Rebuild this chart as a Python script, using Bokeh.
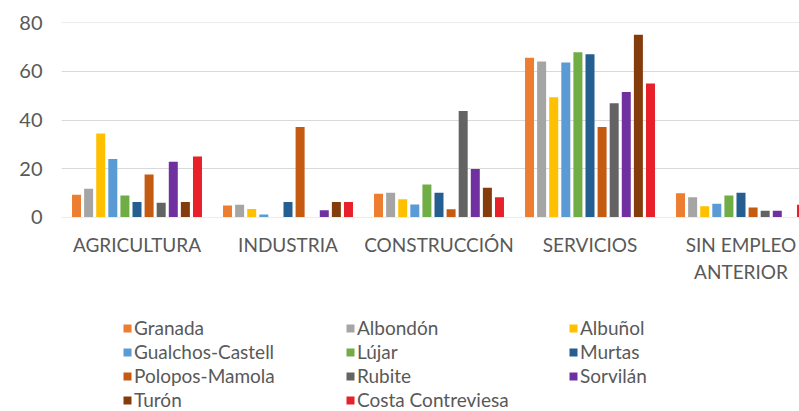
from bokeh.plotting import figure
from bokeh.models import ColumnDataSource, Range1d, FixedTicker, Legend, LegendItem
from bokeh.layouts import column
from bokeh.transform import dodge
from bokeh.embed import file_html
from bokeh.resources import INLINE

# ---- data ----
categories = ["AGRICULTURA", "INDUSTRIA", "CONSTRUCCIÓN", "SERVICIOS", "SIN EMPLEO\nANTERIOR"]
municipios = ["Granada", "Albondón", "Albuñol", "Gualchos-Castell", "Lújar", "Murtas",
              "Polopos-Mamola", "Rubite", "Sorvilán", "Turón", "Costa Contreviesa"]

granada = [9.2, 4.7, 9.6, 65.7, 9.8]
albondon = [11.7, 5.1, 10.0, 64.1, 8.1]
albunol = [34.4, 3.3, 7.3, 49.4, 4.4]
gualchos = [23.9, 1.0, 5.2, 63.7, 5.5]
lujar = [8.9, 0.0, 13.4, 67.9, 8.9]
murtas = [6.2, 6.2, 10.0, 67.1, 10.0]
polopos = [17.5, 37.1, 3.2, 37.1, 3.9]
rubite = [5.9, 0.0, 43.7, 46.9, 2.6]
sorvilan = [22.8, 2.8, 19.8, 51.5, 2.6]
turon = [6.2, 6.2, 12.1, 75.1, 0.0]
costa = [25.0, 6.2, 8.1, 55.0, 5.1]

colors = ["#ED7D31", "#A5A5A5", "#FFC000", "#5B9BD5", "#70AD47", "#255E91",
          "#C55A11", "#636363", "#7030A0", "#843C0C", "#E8202A"]
y_ticks = [0, 20, 40, 60, 80]

series = [granada, albondon, albunol, gualchos, lujar, murtas,
          polopos, rubite, sorvilan, turon, costa]
keys = ["s%d" % i for i in range(len(series))]

cat_idx = list(range(len(categories)))
data = {"x": cat_idx}
for k, s in zip(keys, series):
    data[k] = s
src = ColumnDataSource(data)

step = 0.0801
bar_w = 0.0596
TEXT = "#595959"

p = figure(width=799, height=290, output_backend="svg", toolbar_location=None,
           x_range=Range1d(-0.5, 4.3874), y_range=Range1d(-0.2, 80.2),
           min_border_left=61, min_border_right=0, min_border_top=22,
           min_border_bottom=73)
p.outline_line_color = None
p.background_fill_color = "white"
p.border_fill_color = "white"

n = len(series)
for j, (k, col) in enumerate(zip(keys, colors)):
    p.vbar(x=dodge("x", (j - (n - 1) / 2) * step, range=p.x_range), top=k,
           bottom=0, width=bar_w, source=src, fill_color=col, line_color=None)

# axes
p.xgrid.grid_line_color = None
p.ygrid.grid_line_color = "#D9D9D9"
p.ygrid.grid_line_width = 1
p.yaxis.ticker = FixedTicker(ticks=y_ticks)
p.xaxis.ticker = FixedTicker(ticks=cat_idx)
p.xaxis.major_label_overrides = {i: c for i, c in enumerate(categories)}

for ax in (p.xaxis, p.yaxis):
    ax.axis_line_color = None
    ax.major_tick_line_color = None
    ax.minor_tick_line_color = None
    ax.major_tick_out = 0
    ax.major_tick_in = 0
    ax.major_label_text_font = "Lato"
    ax.major_label_text_font_size = "19px"
    ax.major_label_text_color = TEXT
p.yaxis.major_label_text_font_size = "20px"
p.xaxis.major_label_standoff = 15
p.yaxis.major_label_standoff = 19

# ---- legend figure (same colours; zero-height key glyphs, nothing visible) ----
lf = figure(width=799, height=121, output_backend="svg", toolbar_location=None,
            x_range=Range1d(0, 1), y_range=Range1d(0, 1),
            min_border_left=0, min_border_right=0, min_border_top=0,
            min_border_bottom=0)
lf.axis.visible = False
lf.grid.visible = False
lf.outline_line_color = None
lf.border_fill_color = "white"
lf.background_fill_color = "white"

key_src = ColumnDataSource(dict(x=[0.5], top=[0.0], bottom=[0.0]))
items = []
for name, col in zip(municipios, colors):
    r = lf.vbar(x="x", top="top", bottom="bottom", width=0.0001, source=key_src,
                fill_color=col, line_color=None)
    items.append(LegendItem(label=name, renderers=[r]))

legend = Legend(items=items, location=(61, 0), orientation="horizontal", ncols=3,
                glyph_width=10, glyph_height=10, label_standoff=2, label_width=210,
                label_height=23, spacing=1, padding=0, margin=0,
                border_line_color=None, background_fill_alpha=0,
                label_text_font="Lato", label_text_font_size="19px",
                label_text_color=TEXT)
lf.add_layout(legend)

open("out.html", "w").write(file_html(column(p, lf, spacing=0), INLINE))
